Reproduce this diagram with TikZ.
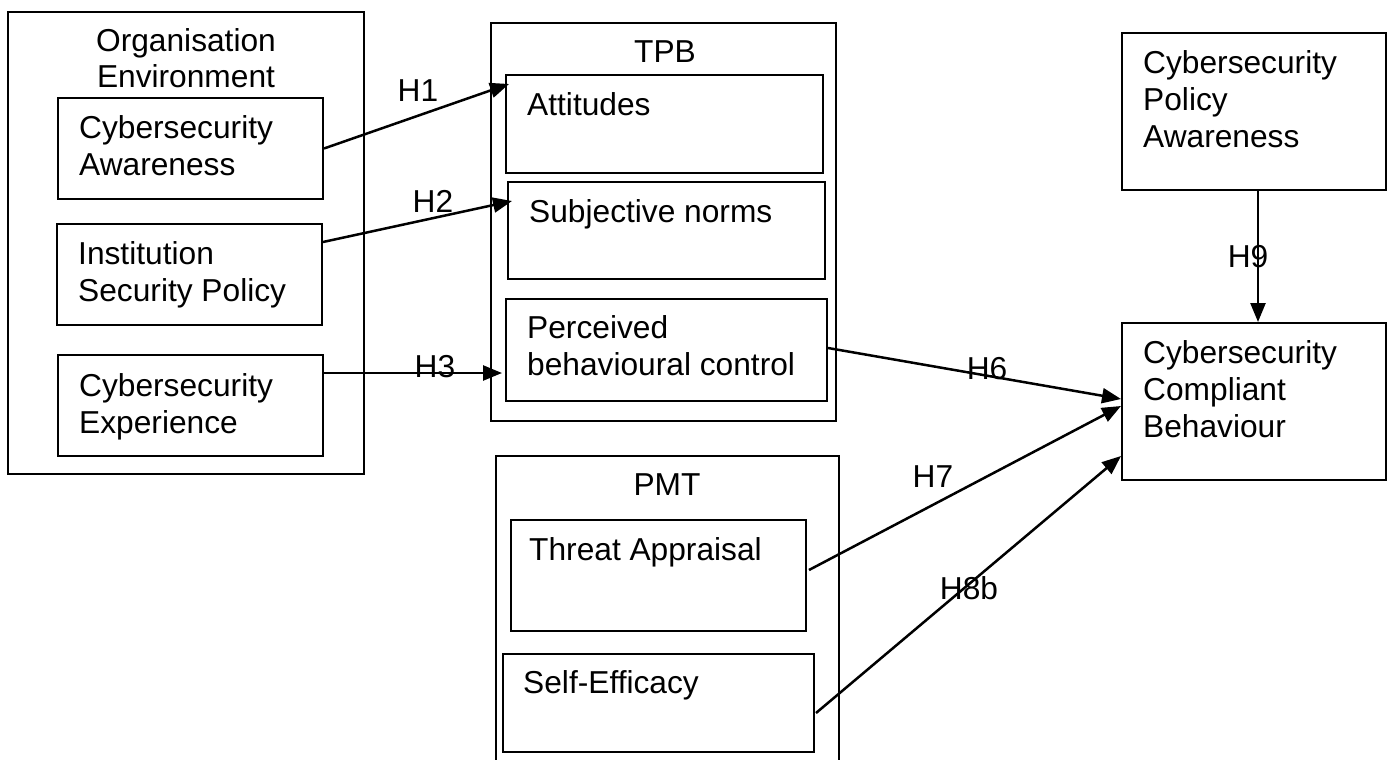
\documentclass[tikz,border=0pt]{standalone}
\usepackage{fontspec}
\setmainfont{Liberation Sans}
\usetikzlibrary{arrows.meta}
\begin{document}
\begin{tikzpicture}[x=1pt,y=-1pt,
  box/.style={draw, line width=2pt, inner sep=0pt, rectangle},
  txt/.style={inner sep=0pt, font=\fontsize{31.7}{37}\selectfont, align=left, anchor=base west},
  ttl/.style={inner sep=0pt, font=\fontsize{31.7}{36}\selectfont, align=center, anchor=base},
  lbl/.style={inner sep=0pt, font=\fontsize{31.7}{37}\selectfont, anchor=base},
  arr/.style={line width=2.5pt, -{Triangle[length=19pt,width=15pt]}}]
\clip (0,0) rectangle (1392,760);
\fill[white] (0,0) rectangle (1392,760);
\useasboundingbox (0,0) rectangle (1392,760);

% outer boxes
\node[box, minimum width=356pt, minimum height=462pt] (org) at (186,243) {};
\node[box, minimum width=345pt, minimum height=398pt] (tpb) at (663.5,222) {};
\node[box, minimum width=343pt, minimum height=324pt] (pmt) at (667.5,618) {};

% inner boxes
\node[box, minimum width=265pt, minimum height=101pt] (ca) at (190.5,148.5) {};
\node[box, minimum width=265pt, minimum height=101pt] (isp) at (189.5,274.5) {};
\node[box, minimum width=265pt, minimum height=101pt] (ce) at (190.5,405.5) {};
\node[box, minimum width=317pt, minimum height=98pt] (att) at (664.5,124) {};
\node[box, minimum width=317pt, minimum height=97pt] (sn) at (666.5,230.5) {};
\node[box, minimum width=321pt, minimum height=102pt] (pbc) at (666.5,350) {};
\node[box, minimum width=295pt, minimum height=111pt] (ta) at (658.5,575.5) {};
\node[box, minimum width=311pt, minimum height=98pt] (se) at (658.5,703) {};
\node[box, minimum width=264pt, minimum height=157pt] (cpa) at (1254,111.5) {};
\node[box, minimum width=264pt, minimum height=157pt] (ccb) at (1254,401.5) {};

% texts (anchor = baseline of the last line)
\node[ttl] (torg) at (186,88) {Organisation\\Environment};
\node[ttl] (ttpb) at (665,63) {TPB};
\node[ttl] (tpmt) at (667,495) {PMT};
\node[txt] (tca) at (79,175) {Cybersecurity\\Awareness};
\node[txt] (tisp) at (78,301) {Institution\\Security Policy};
\node[txt] (tce) at (79,433) {Cybersecurity\\Experience};
\node[txt] (tatt) at (527,115) {Attitudes};
\node[txt] (tsn) at (529,222) {Subjective norms};
\node[txt] (tpbc) at (527,375) {Perceived\\behavioural control};
\node[txt] (tta) at (529,560) {Threat Appraisal};
\node[txt] (tse) at (523,693) {Self-Efficacy};
\node[txt] (tcpa) at (1143,147) {Cybersecurity\\Policy\\Awareness};
\node[txt] (tccb) at (1143,437) {Cybersecurity\\Compliant\\Behaviour};

% connectors
\draw[arr] (ca.east) -- ([xshift=4pt,yshift=-10pt]att.north west);
\draw[arr] ([yshift=-19pt]isp.north east) -- ([xshift=5pt,yshift=-20pt]sn.north west);
\draw[arr] ([yshift=-19pt]ce.north east) -- ([xshift=-3pt,yshift=-75pt]pbc.north west);
\draw[arr] ([yshift=2pt]pbc.east) -- ([yshift=-77pt]ccb.north west);
\draw[arr] ([xshift=2pt,yshift=5.5pt]ta.east) -- ([yshift=-84pt]ccb.north west);
\draw[arr] ([xshift=1pt,yshift=-10pt]se.east) -- ([yshift=-134pt]ccb.north west);
\draw[arr] ([xshift=4pt]cpa.south) -- ([xshift=4pt]ccb.north);

% labels
\node[lbl] (h1) at (418,101) {H1};
\node[lbl] (h2) at (433,212) {H2};
\node[lbl] (h3) at (435,377) {H3};
\node[lbl] (h6) at (987,379) {H6};
\node[lbl] (h7) at (933,487) {H7};
\node[lbl] (h8) at (969,599) {H8b};
\node[lbl] (h9) at (1248,267) {H9};
\end{tikzpicture}
\end{document}
